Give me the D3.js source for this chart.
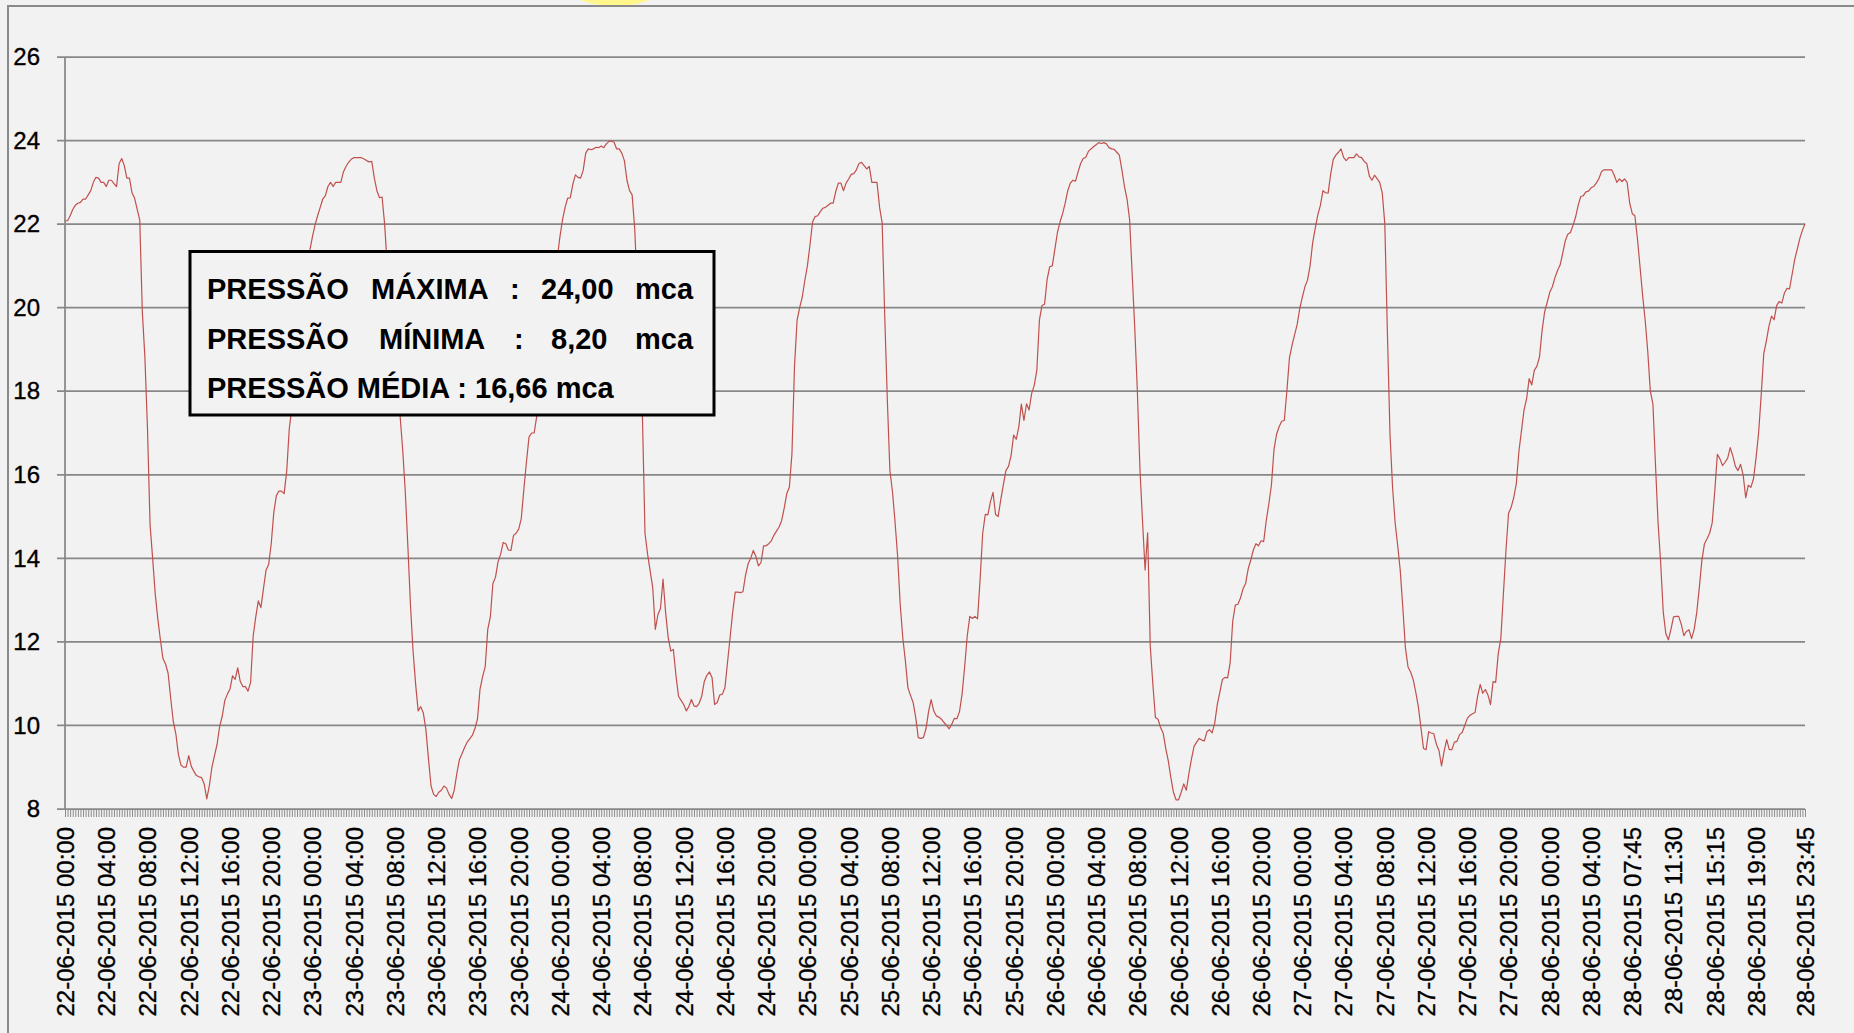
<!DOCTYPE html>
<html>
<head>
<meta charset="utf-8">
<script src="https://cdn.jsdelivr.net/npm/d3@7"></script>
<style>
  body { margin: 0; background: #f2f2f2; }
  svg { display: block; }
</style>
</head>
<body>
<script>
// pressure readings (mca), one per category, 22-06-2015 00:00 .. 28-06-2015 23:45
const pressure = [
  22.08, 22.08, 22.2, 22.35, 22.45, 22.5, 22.52, 22.6, 22.6, 22.7,
  22.8, 23.0, 23.12, 23.1, 23.0, 23.0, 22.9, 23.05, 23.05, 22.97,
  22.9, 23.45, 23.57, 23.4, 23.1, 23.1, 22.75, 22.62, 22.35, 22.1,
  19.9, 18.8, 17.1, 14.8, 14.0, 13.15, 12.55, 12.05, 11.6, 11.47,
  11.25, 10.65, 10.1, 9.8, 9.3, 9.05, 9.0, 9.0, 9.28, 9.02,
  8.9, 8.8, 8.77, 8.75, 8.6, 8.24, 8.56, 9.0, 9.28, 9.55,
  9.98, 10.22, 10.6, 10.75, 10.87, 11.19, 11.1, 11.38, 11.05, 10.93,
  10.93, 10.82, 11.03, 12.14, 12.6, 12.98, 12.82, 13.28, 13.72, 13.85,
  14.35, 15.1, 15.5, 15.61, 15.61, 15.55, 16.08, 17.1, 17.6, 18.2,
  18.8, 19.4, 20.0, 20.6, 21.1, 21.38, 21.7, 21.98, 22.2, 22.4,
  22.6, 22.68, 22.9, 23.0, 22.9, 23.0, 23.0, 23.0, 23.25, 23.38,
  23.48, 23.55, 23.59, 23.59, 23.59, 23.59, 23.56, 23.52, 23.49, 23.5,
  23.1, 22.8, 22.63, 22.65, 22.0, 21.0, 20.2, 19.4, 18.6, 17.9,
  17.4, 16.6, 15.6, 14.3, 12.9, 11.8, 11.0, 10.35, 10.45, 10.3,
  9.9, 9.2, 8.55, 8.35, 8.3, 8.4, 8.45, 8.55, 8.5, 8.35,
  8.25, 8.45, 8.85, 9.18, 9.32, 9.47, 9.6, 9.68, 9.76, 9.92,
  10.15, 10.87, 11.17, 11.4, 12.3, 12.6, 13.4, 13.55, 13.92, 14.1,
  14.38, 14.35, 14.2, 14.19, 14.55, 14.6, 14.7, 14.95, 15.65, 16.3,
  16.9, 17.0, 17.0, 17.4, 17.8, 18.3, 18.8, 19.3, 19.8, 20.3,
  20.8, 21.2, 21.7, 22.1, 22.4, 22.62, 22.63, 22.95, 23.18, 23.12,
  23.1, 23.28, 23.7, 23.8, 23.78, 23.8, 23.84, 23.83, 23.87, 23.83,
  23.92, 23.98, 23.99, 23.96, 23.8, 23.8, 23.7, 23.52, 23.05, 22.8,
  22.7, 21.9, 20.5, 19.0, 17.4, 14.6, 14.1, 13.7, 13.3, 12.3,
  12.65, 12.8, 13.5, 12.7, 12.1, 11.78, 11.82, 11.2, 10.7, 10.6,
  10.5, 10.35, 10.45, 10.62, 10.47, 10.45, 10.53, 10.7, 11.05, 11.2,
  11.28, 11.15, 10.5, 10.55, 10.73, 10.75, 10.9, 11.5, 12.1, 12.7,
  13.19, 13.19, 13.18, 13.2, 13.6, 13.87, 14.0, 14.19, 14.05, 13.82,
  13.9, 14.3, 14.3, 14.35, 14.42, 14.55, 14.65, 14.75, 14.9, 15.2,
  15.55, 15.7, 16.5, 18.6, 19.7, 20.0, 20.25, 20.65, 21.0, 21.5,
  22.05, 22.18, 22.2, 22.3, 22.38, 22.4, 22.45, 22.5, 22.5, 22.78,
  22.98, 22.98, 22.8, 22.98, 23.08, 23.19, 23.21, 23.3, 23.45, 23.48,
  23.4, 23.32, 23.38, 23.0, 23.0, 23.0, 22.4, 22.03, 19.8, 17.8,
  16.1, 15.6, 14.87, 14.05, 12.9, 12.1, 11.55, 10.9, 10.72, 10.55,
  10.2, 9.71, 9.69, 9.71, 9.92, 10.33, 10.62, 10.35, 10.23, 10.2,
  10.15, 10.07, 10.0, 9.92, 10.03, 10.17, 10.16, 10.33, 10.75, 11.4,
  12.14, 12.61, 12.56, 12.61, 12.55, 13.5, 14.6, 15.05, 15.04, 15.35,
  15.58, 15.05, 15.0, 15.4, 15.75, 16.1, 16.2, 16.45, 16.95, 16.85,
  17.14, 17.69, 17.3, 17.7, 17.55, 17.95, 18.14, 18.5, 19.7, 20.05,
  20.08, 20.68, 20.98, 21.0, 21.4, 21.8, 22.05, 22.25, 22.5, 22.8,
  22.98, 23.05, 23.03, 23.25, 23.45, 23.57, 23.6, 23.74, 23.8, 23.85,
  23.9, 23.95, 23.93, 23.95, 23.92, 23.83, 23.8, 23.79, 23.72, 23.65,
  23.3, 22.9, 22.6, 22.1, 20.8, 19.5, 18.0, 16.14, 14.9, 13.72,
  14.61, 11.9, 11.0, 10.19, 10.15, 9.95, 9.82, 9.45, 9.15, 8.75,
  8.4, 8.22, 8.22, 8.4, 8.6, 8.45, 8.85, 9.2, 9.5, 9.6,
  9.69, 9.65, 9.63, 9.85, 9.9, 9.82, 10.05, 10.5, 10.8, 11.1,
  11.15, 11.14, 11.5, 12.5, 12.88, 12.9, 13.05, 13.27, 13.4, 13.75,
  13.96, 14.2, 14.35, 14.3, 14.42, 14.4, 14.9, 15.3, 15.75, 16.6,
  16.97, 17.15, 17.28, 17.3, 18.0, 18.8, 19.1, 19.35, 19.6, 19.98,
  20.25, 20.5, 20.66, 21.0, 21.55, 21.9, 22.22, 22.45, 22.8, 22.75,
  22.74, 23.2, 23.55, 23.65, 23.72, 23.8, 23.6, 23.52, 23.59, 23.59,
  23.59, 23.68, 23.61, 23.59, 23.5, 23.45, 23.15, 23.05, 23.17, 23.09,
  23.0, 22.75, 22.0, 19.4, 16.98, 15.7, 14.85, 14.3, 13.7, 12.8,
  11.85, 11.4, 11.28, 11.1, 10.8, 10.45, 9.95, 9.45, 9.42, 9.85,
  9.82, 9.8, 9.55, 9.4, 9.03, 9.38, 9.66, 9.42, 9.42, 9.6,
  9.62, 9.78, 9.83, 10.0, 10.17, 10.24, 10.28, 10.31, 10.7, 10.98,
  10.77, 10.86, 10.73, 10.5, 11.05, 11.03, 11.72, 12.08, 13.15, 14.2,
  15.08, 15.22, 15.45, 15.78, 16.55, 17.05, 17.55, 17.82, 18.3, 18.15,
  18.5, 18.6, 18.82, 19.45, 19.9, 20.13, 20.37, 20.5, 20.72, 20.89,
  21.02, 21.3, 21.6, 21.76, 21.8, 21.97, 22.17, 22.45, 22.66, 22.68,
  22.77, 22.79, 22.87, 22.9, 22.98, 23.08, 23.25, 23.3, 23.3, 23.3,
  23.3, 23.17, 23.0, 23.08, 23.02, 23.08, 23.0, 22.5, 22.25, 22.2,
  21.65, 20.98, 20.3, 19.7, 18.95, 18.0, 17.7, 16.24, 14.85, 13.9,
  12.72, 12.2, 12.05, 12.3, 12.6, 12.61, 12.61, 12.42, 12.15, 12.25,
  12.29, 12.08, 12.3, 12.7, 13.3, 13.95, 14.35, 14.47, 14.6, 14.85,
  15.61, 16.49, 16.38, 16.22, 16.3, 16.4, 16.65, 16.45, 16.2, 16.1,
  16.25, 16.0, 15.45, 15.75, 15.7, 15.9, 16.4, 17.0, 17.9, 18.9,
  19.2, 19.55, 19.8, 19.71, 20.05, 20.15, 20.11, 20.35, 20.46, 20.45,
  20.8, 21.15, 21.4, 21.66, 21.85, 22.01
];

// category positions that carry a label, and the labels themselves
const tickIndex = [
  0, 16, 32, 48, 64, 80, 96, 112, 128, 144, 160, 176, 192, 208, 224, 240,
  256, 272, 288, 304, 320, 336, 352, 368, 384, 400, 416, 432, 448, 464,
  480, 496, 512, 528, 544, 560, 576, 592, 608, 624, 640, 656, 675
];
const tickLabels = [
  "22-06-2015 00:00", "22-06-2015 04:00", "22-06-2015 08:00", "22-06-2015 12:00", "22-06-2015 16:00", "22-06-2015 20:00",
  "23-06-2015 00:00", "23-06-2015 04:00", "23-06-2015 08:00", "23-06-2015 12:00", "23-06-2015 16:00", "23-06-2015 20:00",
  "24-06-2015 00:00", "24-06-2015 04:00", "24-06-2015 08:00", "24-06-2015 12:00", "24-06-2015 16:00", "24-06-2015 20:00",
  "25-06-2015 00:00", "25-06-2015 04:00", "25-06-2015 08:00", "25-06-2015 12:00", "25-06-2015 16:00", "25-06-2015 20:00",
  "26-06-2015 00:00", "26-06-2015 04:00", "26-06-2015 08:00", "26-06-2015 12:00", "26-06-2015 16:00", "26-06-2015 20:00",
  "27-06-2015 00:00", "27-06-2015 04:00", "27-06-2015 08:00", "27-06-2015 12:00", "27-06-2015 16:00", "27-06-2015 20:00",
  "28-06-2015 00:00", "28-06-2015 04:00", "28-06-2015 07:45", "28-06-2015 11:30", "28-06-2015 15:15", "28-06-2015 19:00",
  "28-06-2015 23:45"
];

const yTicks = [8, 10, 12, 14, 16, 18, 20, 22, 24, 26];

// summary box text, word by word
const summaryMax = ["PRESSÃO", "MÁXIMA", ":", "24,00", "mca"];
const summaryMin = ["PRESSÃO", "MÍNIMA", ":", "8,20", "mca"];
const summaryAvg = "PRESSÃO MÉDIA : 16,66 mca";


function drawPressure() {
    const width = 1854, height = 1033;
    const plot = {left: 65, right: 1805, top: 57, bottom: 809};
    const font = '"Liberation Sans", Arial, sans-serif';

    const svg = d3.select("body")
      .append("svg")
        .attr("width", width)
        .attr("height", height);

    svg.append("rect")
        .attr("width", width)
        .attr("height", height)
        .attr("fill", "#f2f2f2");

    // little yellow blob peeking over the top edge
    svg.append("ellipse")
        .attr("cx", 615).attr("cy", -10)
        .attr("rx", 44).attr("ry", 16)
        .attr("fill", "#fff68c");

    // chart area frame (only top and left are on the page)
    svg.append("path")
        .attr("d", `M8,${height} V6 H${width}`)
        .attr("fill", "none")
        .attr("stroke", "#8a8a8a")
        .attr("stroke-width", 2);

    const x = d3.scaleLinear()
        .domain([0, pressure.length - 1])
        .range([plot.left, plot.right]);

    const y = d3.scaleLinear()
        .domain([8, 26])
        .range([plot.bottom, plot.top]);

    // gridlines, starting at the outer tick
    svg.append("g")
      .selectAll("line")
      .data(yTicks)
      .join("line")
        .attr("x1", plot.left - 8)
        .attr("x2", plot.right)
        .attr("y1", d => y(d))
        .attr("y2", d => y(d))
        .attr("stroke", "#878787")
        .attr("stroke-width", 1.75);

    // vertical axis line
    svg.append("line")
        .attr("x1", plot.left).attr("x2", plot.left)
        .attr("y1", y(26)).attr("y2", y(8))
        .attr("stroke", "#878787")
        .attr("stroke-width", 1.75);

    // y labels
    svg.append("g")
        .attr("transform", `translate(${plot.left},0)`)
        .call(d3.axisLeft(y).tickValues(yTicks).tickSize(0).tickPadding(25))
        .call(g => g.select(".domain").remove())
        .attr("font-family", font)
        .attr("font-size", 24)
        .selectAll("text")
        .attr("fill", "#000")
        .attr("stroke", "#000")
        .attr("stroke-width", 0.35);

    // one small tick for every category
    svg.append("g")
        .attr("transform", `translate(0,${plot.bottom})`)
        .attr("color", "#8c8c8c")
        .call(d3.axisBottom(x)
            .tickValues(d3.range(pressure.length))
            .tickSize(8)
            .tickFormat(""))
        .call(g => g.select(".domain").remove());

    // date labels, rotated
    svg.append("g")
        .attr("transform", `translate(0,${plot.bottom})`)
        .call(d3.axisBottom(x)
            .tickValues(tickIndex)
            .tickSize(0)
            .tickFormat((d, i) => tickLabels[i]))
        .call(g => g.select(".domain").remove())
        .attr("font-family", font)
        .attr("font-size", 24)
        .selectAll("text")
        .attr("fill", "#000")
        .attr("stroke", "#000")
        .attr("stroke-width", 0.35)
        .attr("transform", "rotate(-90)")
        .attr("x", -18)
        .attr("y", 0)
        .attr("dy", "0.35em")
        .style("text-anchor", "end");

    // pressure line
    const line = d3.line()
        .x((d, i) => x(i))
        .y(d => y(d));

    svg.append("path")
        .datum(pressure)
        .attr("d", line)
        .attr("fill", "none")
        .attr("stroke", "#c0504d")
        .attr("stroke-width", 1.2)
        .attr("stroke-linejoin", "round");

    // summary box
    const box = svg.append("g");
    box.append("rect")
        .attr("x", 190).attr("y", 251.5)
        .attr("width", 524).attr("height", 163.5)
        .attr("fill", "#f2f2f2")
        .attr("stroke", "#000")
        .attr("stroke-width", 3);

    const boxText = box.append("g")
        .attr("font-family", font)
        .attr("font-weight", "bold")
        .attr("font-size", 29)
        .attr("fill", "#000");

    const maxX = [207, 371, 510, 541, 635];
    const minX = [207, 379, 514, 551, 635];
    boxText.append("text")
        .attr("y", 299)
      .selectAll("tspan")
      .data(summaryMax)
      .join("tspan")
        .attr("x", (d, i) => maxX[i])
        .text(d => d);

    boxText.append("text")
        .attr("y", 349)
      .selectAll("tspan")
      .data(summaryMin)
      .join("tspan")
        .attr("x", (d, i) => minX[i])
        .text(d => d);

    boxText.append("text")
        .attr("x", 207)
        .attr("y", 398)
        .text(summaryAvg);
}

drawPressure();
</script>
</body>
</html>
